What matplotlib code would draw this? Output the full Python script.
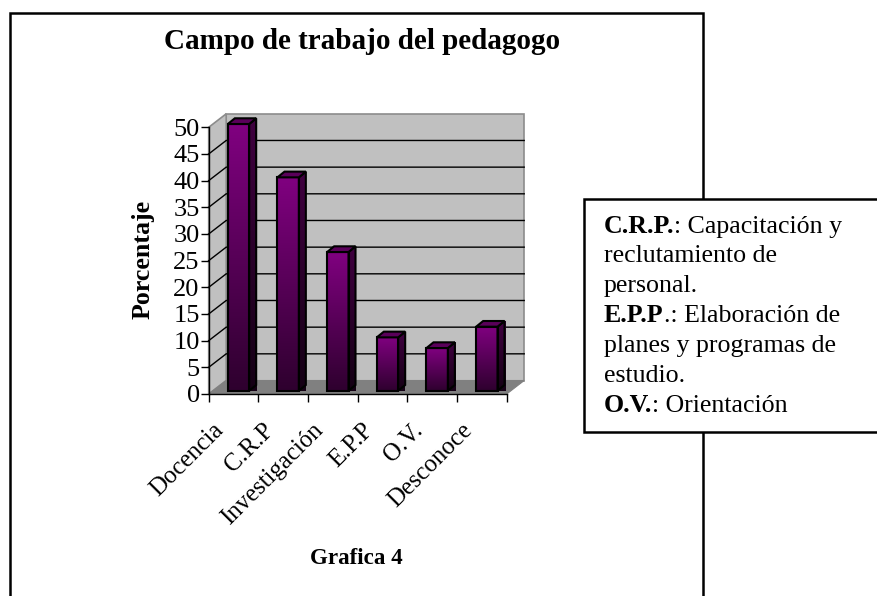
import numpy as np
import matplotlib
matplotlib.use("Agg")
import matplotlib.pyplot as plt
from matplotlib.colors import LinearSegmentedColormap
from matplotlib.patches import Polygon, Rectangle

categories = ["Docencia", "C.R.P", "Investigación", "E.P.P", "O.V.", "Desconoce"]
values = [50, 40, 26, 10, 8, 12]
yticks = list(range(0, 55, 5))

W, H = 877, 596
plt.rcParams["font.family"] = ["Liberation Serif", "DejaVu Serif"]
fig = plt.figure(figsize=(W / 100, H / 100), dpi=100, facecolor="white")

page = fig.add_axes([0, 0, 1, 1], zorder=0)
page.set_xlim(0, W); page.set_ylim(H, 0); page.axis("off")
page.add_patch(Rectangle((10, 13), 693, 600, fc="white", ec="black", lw=1.8))
page.text(362, 49, "Campo de trabajo del pedagogo", ha="center", va="baseline",
          fontsize=21, fontweight="bold")
page.text(356, 564, "Grafica 4", ha="center", va="baseline", fontsize=16.6, fontweight="bold")
page.text(150, 259, "Porcentaje", rotation=90, ha="center", va="baseline", rotation_mode="anchor",
          fontsize=18.6, fontweight="bold")

L, R, T, B = 208.7, 506.7, 127.3, 394.0
ax = fig.add_axes([L / W, 1 - B / H, (R - L) / W, (B - T) / H], zorder=1)
ax.set_xlim(0, len(categories)); ax.set_ylim(0, 50)
ax.patch.set_visible(False)
for s in ax.spines.values():
    s.set_visible(False)

ux = (R - L) / len(categories); uy = (B - T) / 50
DX, DY = 17.5 / ux, 13.5 / uy
ymax = yticks[-1]; xmax = len(categories)
wall, floor_c, edge = "#C0C0C0", "#808080", "#8C8C8C"
ax.add_patch(Polygon([(DX, DY), (xmax + DX, DY), (xmax + DX, ymax + DY), (DX, ymax + DY)],
                     fc=wall, ec=edge, lw=1.2, clip_on=False, zorder=1))
ax.add_patch(Polygon([(0, 0), (DX, DY), (DX, ymax + DY), (0, ymax)],
                     fc=wall, ec=edge, lw=1.2, clip_on=False, zorder=1))
ax.add_patch(Polygon([(0, 0), (xmax, 0), (xmax + DX, DY), (DX, DY)],
                     fc=floor_c, ec=floor_c, lw=0.8, clip_on=False, zorder=1))
for v in yticks[1:-1]:
    ax.plot([0, DX, xmax + DX], [v, v + DY, v + DY], color="black", lw=1.0,
            clip_on=False, zorder=2, solid_joinstyle="miter")
ax.plot([0, 0], [0, ymax], color="black", lw=1.0, clip_on=False, zorder=2)

cm_front = LinearSegmentedColormap.from_list("f", ["#2E002E", "#800080"])
cm_side = LinearSegmentedColormap.from_list("s", ["#140014", "#400040"])
grad = np.linspace(0, 1, 128).reshape(-1, 1)
bw = 0.43; ddx, ddy = 7 / ux, 5.7 / uy; base = 3.3 / uy
for i, v in enumerate(values):
    x0, x1 = i + 0.6 - bw / 2, i + 0.6 + bw / 2
    y0, y1 = base, base + v
    ax.imshow(grad, cmap=cm_front, origin="lower", extent=[x0, x1, y0, y1], aspect="auto",
              zorder=5, clip_on=False)
    ax.add_patch(Rectangle((x0, y0), x1 - x0, v, fc="none", ec="black", lw=1.5, zorder=6, clip_on=False))
    side = Polygon([(x1, y0), (x1 + ddx, y0 + ddy), (x1 + ddx, y1 + ddy), (x1, y1)],
                   fc="none", ec="none", zorder=5, clip_on=False)
    ax.add_patch(side)
    im = ax.imshow(grad, cmap=cm_side, origin="lower", extent=[x1, x1 + ddx, y0, y1 + ddy],
                   aspect="auto", zorder=5, clip_on=False)
    im.set_clip_path(side)
    ax.add_patch(Polygon([(x1, y0), (x1 + ddx, y0 + ddy), (x1 + ddx, y1 + ddy), (x1, y1)],
                         fc="none", ec="black", lw=1.5, zorder=6, clip_on=False))
    ax.add_patch(Polygon([(x0, y1), (x0 + ddx, y1 + ddy), (x1 + ddx, y1 + ddy), (x1, y1)],
                         fc="#5A005A", ec="black", lw=1.5, zorder=6, clip_on=False))
ax.set_xlim(0, xmax); ax.set_ylim(0, ymax)

ax.set_yticks(yticks)
ax.set_yticklabels([str(t) for t in yticks], fontsize=19)
ax.set_xticks(range(0, xmax + 1))
ax.set_xticklabels([""] * (xmax + 1))
ax.tick_params(axis="y", length=6, width=1, pad=0.5, color="black", direction="out")
ax.tick_params(axis="x", length=6, width=1, color="black", direction="out")
ax.spines["bottom"].set_visible(True); ax.spines["bottom"].set_linewidth(1.0)
for i, c in enumerate(categories):
    ax.annotate(c, (i + 0.5, 0), xytext=(-15, -18), textcoords="offset points",
                rotation=45, rotation_mode="anchor", ha="right", va="top", fontsize=17.8,
                annotation_clip=False)

page.add_patch(Rectangle((583.5, 198.5), 300, 233.5, fc="white", ec="black", lw=1.8, zorder=3))
FS = 18.6
notes = [("C.R.P.", ": Capacitación y", 232.7), (None, "reclutamiento de", 261.7), (None, "personal.", 291.7),
         ("E.P.P", ".: Elaboración de", 322.5), (None, "planes y programas de", 351.7), (None, "estudio.", 381.7),
         ("O.V.", ": Orientación", 411.7)]
for bold, rest, y in notes:
    if bold:
        t = page.text(604, y, bold, fontsize=FS, fontweight="bold", va="baseline", zorder=4)
        fig.canvas.draw()
        x1_px = t.get_window_extent().x1
        x_data = page.transData.inverted().transform((x1_px, 0))[0]
        page.text(x_data, y, rest, fontsize=FS, va="baseline", zorder=4)
    else:
        page.text(604, y, rest, fontsize=FS, va="baseline", zorder=4)

fig.savefig("out.png", dpi=100)
